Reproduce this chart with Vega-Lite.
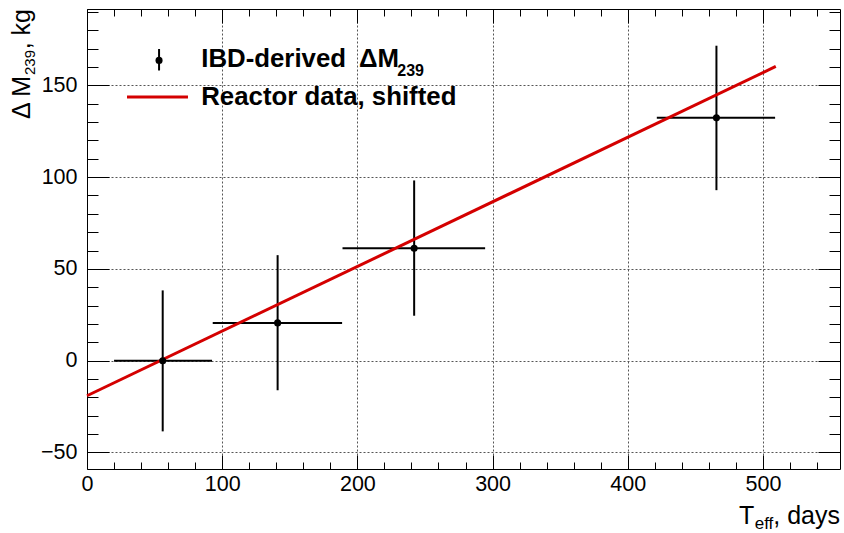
{
  "$schema": "https://vega.github.io/schema/vega-lite/v6.json",
  "width": 753,
  "height": 460,
  "padding": {"left": 87, "top": 9, "right": 4, "bottom": 64},
  "autosize": {"type": "none"},
  "background": "white",
  "config": {
    "view": {"stroke": null},
    "font": "Liberation Sans",
    "axis": {
      "title": null,
      "domainColor": "black",
      "domainWidth": 1,
      "tickColor": "black",
      "tickWidth": 1,
      "labelFont": "Liberation Sans",
      "labelFontSize": 21.5,
      "labelColor": "black",
      "labelFlush": false,
      "gridColor": "#555555",
      "gridDash": [2, 2],
      "gridWidth": 1
    }
  },
  "datasets": {
    "ibd": [
      {"t": 56, "tlo": 20, "thi": 92.5, "m": 0, "mlo": -38.5, "mhi": 38.3},
      {"t": 141, "tlo": 93, "thi": 188.7, "m": 20.6, "mlo": -16.1, "mhi": 57.5},
      {"t": 242, "tlo": 189, "thi": 294.5, "m": 61.3, "mlo": 24.5, "mhi": 98.2},
      {"t": 465.6, "tlo": 421.5, "thi": 509, "m": 132.3, "mlo": 92.9, "mhi": 171.6}
    ],
    "reactor": [
      {"t": 0, "m": -19.1},
      {"t": 509.5, "m": 160.3}
    ],
    "one": [{"k": 1}]
  },
  "resolve": {"axis": {"x": "independent", "y": "independent"}},
  "layer": [
    {
      "data": {"name": "ibd"},
      "mark": {"type": "rule", "color": "black", "strokeWidth": 2},
      "encoding": {
        "x": {"field": "tlo", "type": "quantitative",
              "scale": {"domain": [0, 557], "nice": false, "zero": false},
              "axis": {"orient": "bottom", "values": [0, 100, 200, 300, 400, 500], "ticks": false, "labels": true, "labelPadding": 4, "labelFlush": false, "grid": true, "domain": true, "zindex": 0}},
        "x2": {"field": "thi"},
        "y": {"field": "m", "type": "quantitative",
              "scale": {"domain": [-59, 191.6], "nice": false, "zero": false},
              "axis": {"orient": "left", "values": [-50, 0, 50, 100, 150], "ticks": false, "labels": true, "labelPadding": 10, "labelFlush": false, "grid": true, "domain": true, "zindex": 0}}
      }
    },
    {
      "data": {"name": "ibd"},
      "mark": {"type": "rule", "color": "black", "strokeWidth": 2},
      "encoding": {
        "x": {"field": "t", "type": "quantitative",
              "axis": {"orient": "bottom", "values": [0, 100, 200, 300, 400, 500], "tickSize": -14, "labels": false, "grid": false, "domain": false}},
        "y": {"field": "mlo", "type": "quantitative",
              "axis": {"orient": "left", "values": [-50, 0, 50, 100, 150], "tickSize": -22, "labels": false, "grid": false, "domain": false}},
        "y2": {"field": "mhi"}
      }
    },
    {
      "data": {"name": "reactor"},
      "mark": {"type": "line", "color": "#d40000", "strokeWidth": 3},
      "encoding": {
        "x": {"field": "t", "type": "quantitative",
              "axis": {"orient": "bottom", "values": [20, 40, 60, 80, 120, 140, 160, 180, 220, 240, 260, 280, 320, 340, 360, 380, 420, 440, 460, 480, 520, 540], "tickSize": -7, "labels": false, "grid": false, "domain": false}},
        "y": {"field": "m", "type": "quantitative",
              "axis": {"orient": "left", "values": [-40, -30, -20, -10, 10, 20, 30, 40, 60, 70, 80, 90, 110, 120, 130, 140, 160, 170, 180, 190], "tickSize": -11, "labels": false, "grid": false, "domain": false}}
      }
    },
    {
      "data": {"name": "ibd"},
      "mark": {"type": "point", "filled": true, "shape": "circle", "color": "black", "size": 50, "opacity": 1},
      "encoding": {
        "x": {"field": "t", "type": "quantitative",
              "axis": {"orient": "top", "values": [0, 100, 200, 300, 400, 500], "tickSize": -14, "labels": false, "grid": false, "domain": true}},
        "y": {"field": "m", "type": "quantitative",
              "axis": {"orient": "right", "values": [-50, 0, 50, 100, 150], "tickSize": -22, "labels": false, "grid": false, "domain": true}}
      }
    },
    {
      "data": {"name": "one"},
      "mark": {"type": "rule", "color": "black", "strokeWidth": 2},
      "encoding": {
        "x": {"datum": 53.3, "type": "quantitative",
              "axis": {"orient": "top", "values": [20, 40, 60, 80, 120, 140, 160, 180, 220, 240, 260, 280, 320, 340, 360, 380, 420, 440, 460, 480, 520, 540], "tickSize": -7, "labels": false, "grid": false, "domain": false}},
        "y": {"datum": 158.1, "type": "quantitative",
              "axis": {"orient": "right", "values": [-40, -30, -20, -10, 10, 20, 30, 40, 60, 70, 80, 90, 110, 120, 130, 140, 160, 170, 180, 190], "tickSize": -11, "labels": false, "grid": false, "domain": false}},
        "y2": {"datum": 169.8}
      }
    },
    {
      "data": {"name": "one"},
      "mark": {"type": "point", "filled": true, "shape": "circle", "color": "black", "size": 50, "opacity": 1},
      "encoding": {
        "x": {"datum": 53.3, "type": "quantitative", "axis": null},
        "y": {"datum": 163.6, "type": "quantitative", "axis": null}
      }
    },
    {
      "data": {"name": "one"},
      "mark": {"type": "rule", "color": "#d40000", "strokeWidth": 3},
      "encoding": {
        "x": {"datum": 29.6, "type": "quantitative", "axis": null},
        "x2": {"datum": 74.7},
        "y": {"datum": 143.7, "type": "quantitative", "axis": null}
      }
    },
    {
      "data": {"name": "one"},
      "mark": {"type": "text", "align": "left", "baseline": "alphabetic", "font": "Liberation Sans", "fontWeight": "bold", "fontSize": 25.8, "color": "black"},
      "encoding": {
        "x": {"datum": 84.5, "type": "quantitative", "axis": null},
        "y": {"datum": 160.0, "type": "quantitative", "axis": null},
        "text": {"value": "IBD-derived\u2002ΔM"}
      }
    },
    {
      "data": {"name": "one"},
      "mark": {"type": "text", "align": "left", "baseline": "alphabetic", "font": "Liberation Sans", "fontWeight": "bold", "fontSize": 16, "color": "black", "dx": 196, "dy": 8.7},
      "encoding": {
        "x": {"datum": 84.5, "type": "quantitative", "axis": null},
        "y": {"datum": 160.0, "type": "quantitative", "axis": null},
        "text": {"value": "239"}
      }
    },
    {
      "data": {"name": "one"},
      "mark": {"type": "text", "align": "left", "baseline": "alphabetic", "font": "Liberation Sans", "fontWeight": "bold", "fontSize": 25.8, "color": "black"},
      "encoding": {
        "x": {"datum": 84.5, "type": "quantitative", "axis": null},
        "y": {"datum": 139.5, "type": "quantitative", "axis": null},
        "text": {"value": "Reactor data, shifted"}
      }
    },
    {
      "data": {"name": "one"},
      "mark": {"type": "text", "align": "right", "baseline": "alphabetic", "font": "Liberation Sans", "fontSize": 25, "color": "black", "dy": 55},
      "encoding": {
        "x": {"datum": 557, "type": "quantitative", "axis": null},
        "y": {"datum": -59, "type": "quantitative", "axis": null},
        "text": {"value": ", days"}
      }
    },
    {
      "data": {"name": "one"},
      "mark": {"type": "text", "align": "right", "baseline": "alphabetic", "font": "Liberation Sans", "fontSize": 17, "color": "black", "dx": -66.7, "dy": 60},
      "encoding": {
        "x": {"datum": 557, "type": "quantitative", "axis": null},
        "y": {"datum": -59, "type": "quantitative", "axis": null},
        "text": {"value": "eff"}
      }
    },
    {
      "data": {"name": "one"},
      "mark": {"type": "text", "align": "right", "baseline": "alphabetic", "font": "Liberation Sans", "fontSize": 25, "color": "black", "dx": -85.6, "dy": 55},
      "encoding": {
        "x": {"datum": 557, "type": "quantitative", "axis": null},
        "y": {"datum": -59, "type": "quantitative", "axis": null},
        "text": {"value": "T"}
      }
    },
    {
      "data": {"name": "one"},
      "mark": {"type": "text", "align": "right", "baseline": "alphabetic", "font": "Liberation Sans", "fontSize": 25, "color": "black", "angle": 270, "dx": 0, "dy": -57},
      "encoding": {
        "x": {"datum": 0, "type": "quantitative", "axis": null},
        "y": {"datum": 191.6, "type": "quantitative", "axis": null},
        "text": {"value": ", kg"}
      }
    },
    {
      "data": {"name": "one"},
      "mark": {"type": "text", "align": "right", "baseline": "alphabetic", "font": "Liberation Sans", "fontSize": 15, "color": "black", "angle": 270, "dx": -41, "dy": -52.5},
      "encoding": {
        "x": {"datum": 0, "type": "quantitative", "axis": null},
        "y": {"datum": 191.6, "type": "quantitative", "axis": null},
        "text": {"value": "239"}
      }
    },
    {
      "data": {"name": "one"},
      "mark": {"type": "text", "align": "right", "baseline": "alphabetic", "font": "Liberation Sans", "fontSize": 25, "color": "black", "angle": 270, "dx": -67, "dy": -57},
      "encoding": {
        "x": {"datum": 0, "type": "quantitative", "axis": null},
        "y": {"datum": 191.6, "type": "quantitative", "axis": null},
        "text": {"value": "Δ M"}
      }
    }
  ]
}
